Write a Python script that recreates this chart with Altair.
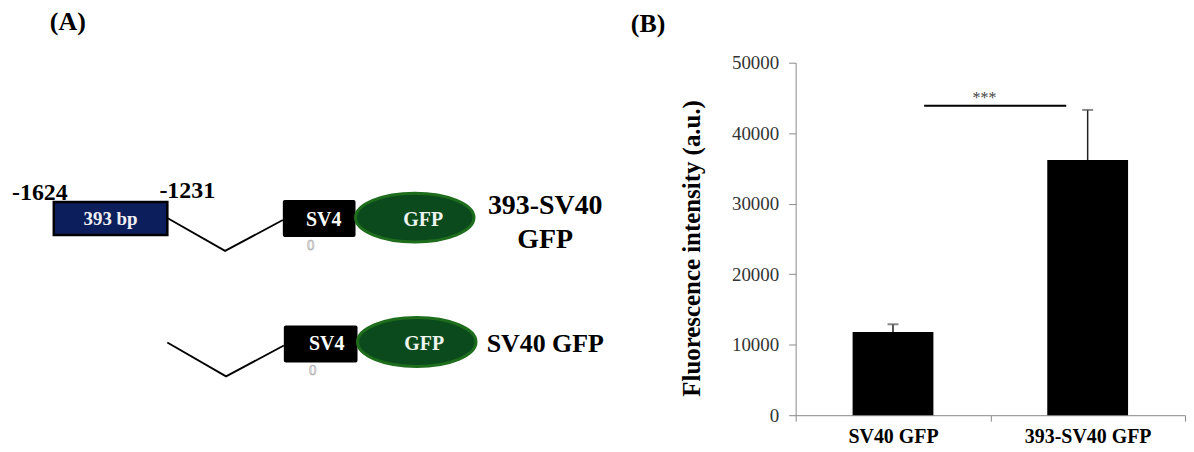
import altair as alt
import pandas as pd

FONT = "Liberation Serif"

# ---------------- Panel B data ----------------
categories = ["SV40 GFP", "393-SV40 GFP"]
means = [11800, 36200]
errors = [1100, 7100]
sig_value = 43900
sig_label = "***"
sig_span = [0.66, 1.39]      # in category-index units (0..2)
sig_text_pos = [0.97]
y_ticks = [0, 10000, 20000, 30000, 40000, 50000]

# ---------------- Panel A schematic (diagram units, y downward) ----------------
promoter_x = [46, 160]
promoter_y = [139, 172]
promoter_label = "393 bp"
coord_labels = ["-1624", "-1231"]
coord_x = [32, 180]
coord_y = [137, 135]
link_row = [0, 0, 0, 1, 1, 1]
link_order = [0, 1, 2, 0, 1, 2]
link_x = [160, 218, 276, 160, 219, 277]
link_y = [155, 188, 157, 280, 314, 283]
sv4_x0 = [276, 277]
sv4_x1 = [349, 351]
sv4_y0 = [137, 263]
sv4_y1 = [174, 300]
sv4_text = ["SV4", "SV4"]
sv4_tx = [317, 320]
sv4_ty = [157, 282]
stray_text = ["0", "0"]
stray_x = [304, 306]
stray_y = [182, 308]
gfp_x = [408.5, 410.5]
gfp_y = [154.5, 279.5]
gfp_text = ["GFP", "GFP"]
gfp_tx = [417, 418]
gfp_ty = [157, 282]
name_text = ["393-SV40", "GFP", "SV40 GFP"]
name_x = [539.5, 539.5, 539.5]
name_y = [151, 185, 290]
name_size = [28, 28, 26]

ELLIPSE = "M-1,0A1,0.412,0,1,1,1,0A1,0.412,0,1,1,-1,0Z"

A_W = 615
VIEW_TOP_SHIFT = -1

xs = alt.Scale(domain=[0, A_W], nice=False, zero=False)
ys = alt.Scale(domain=[VIEW_TOP_SHIFT, 354 + VIEW_TOP_SHIFT], nice=False, zero=False, reverse=True)


def X(f):
    return alt.X(f, type="quantitative", scale=xs, axis=None)


def Y(f):
    return alt.Y(f, type="quantitative", scale=ys, axis=None)


links = alt.Chart(pd.DataFrame({"row": link_row, "o": link_order, "x": link_x, "y": link_y})).mark_line(
    color="black", strokeWidth=1.8
).encode(x=X("x"), y=Y("y"), detail="row:N", order="o:Q")

prom = alt.Chart(pd.DataFrame({"x": [promoter_x[0]], "x2": [promoter_x[1]], "y": [promoter_y[0]], "y2": [promoter_y[1]]})).mark_rect(
    fill="#0c1f5c", stroke="black", strokeWidth=2.5
).encode(x=X("x"), x2="x2:Q", y=Y("y"), y2="y2:Q")

prom_txt = alt.Chart(pd.DataFrame({"t": [promoter_label], "x": [(promoter_x[0] + promoter_x[1]) / 2], "y": [sum(promoter_y) / 2]})).mark_text(
    font=FONT, fontSize=19, fontWeight="bold", color="#f0f0f4", baseline="middle"
).encode(x=X("x"), y=Y("y"), text="t:N")

coords = alt.Chart(pd.DataFrame({"t": coord_labels, "x": coord_x, "y": coord_y})).mark_text(
    font=FONT, fontSize=24, fontWeight="bold", color="black", baseline="alphabetic"
).encode(x=X("x"), y=Y("y"), text="t:N")

sv4 = alt.Chart(pd.DataFrame({"x": sv4_x0, "x2": sv4_x1, "y": sv4_y0, "y2": sv4_y1})).mark_rect(
    fill="black", cornerRadius=2
).encode(x=X("x"), x2="x2:Q", y=Y("y"), y2="y2:Q")

sv4_txt = alt.Chart(pd.DataFrame({"t": sv4_text, "x": sv4_tx, "y": sv4_ty})).mark_text(
    font=FONT, fontSize=20, fontWeight="bold", color="white", baseline="middle"
).encode(x=X("x"), y=Y("y"), text="t:N")

stray = alt.Chart(pd.DataFrame({"t": stray_text, "x": stray_x, "y": stray_y})).mark_text(
    font=FONT, fontSize=15, fill="white", stroke="#b0b0b0", strokeWidth=0.7, baseline="middle"
).encode(x=X("x"), y=Y("y"), text="t:N")

gfp = alt.Chart(pd.DataFrame({"x": gfp_x, "y": gfp_y})).mark_point(
    shape=ELLIPSE, size=119 * 119, filled=True, fill="#0b4a1d", stroke="#1d6d1d", strokeWidth=3, opacity=1
).encode(x=X("x"), y=Y("y"))

gfp_txt = alt.Chart(pd.DataFrame({"t": gfp_text, "x": gfp_tx, "y": gfp_ty})).mark_text(
    font=FONT, fontSize=20, fontWeight="bold", color="#eef4ee", baseline="middle"
).encode(x=X("x"), y=Y("y"), text="t:N")

names = alt.Chart(pd.DataFrame({"t": name_text, "x": name_x, "y": name_y, "fs": name_size})).mark_text(
    font=FONT, fontWeight="bold", color="black", baseline="alphabetic"
).encode(x=X("x"), y=Y("y"), text="t:N", size=alt.Size("fs:Q", scale=None, legend=None))

TITLE_KW = dict(anchor="start", fontSize=26, font=FONT, fontWeight="bold", color="black")

panel_a = alt.layer(links, prom, prom_txt, coords, sv4, sv4_txt, stray, gfp, gfp_txt, names).properties(
    width=A_W, height=354, title=alt.TitleParams("(A)", dx=42, offset=28, **TITLE_KW)
)

# ---------------- Panel B ----------------
bdf = pd.DataFrame({"cat": categories, "mean": means, "hi": [m + e for m, e in zip(means, errors)]})

xscale = alt.Scale(domain=categories, paddingInner=0, paddingOuter=0)
xb = alt.X(
    "cat:N",
    sort=categories,
    scale=xscale,
    axis=alt.Axis(
        title=None, labelAngle=0, tickBand="extent", tickSize=6, labelPadding=5,
        labelFont=FONT, labelFontSize=20, labelFontWeight="bold", labelColor="black",
        domainColor="#888888", tickColor="#888888",
    ),
)
yb = alt.Y(
    "mean:Q",
    scale=alt.Scale(domain=[0, 50000], nice=False),
    axis=alt.Axis(
        values=y_ticks, format="d", title="Fluorescence intensity (a.u.)", grid=False,
        tickSize=7, labelPadding=10, labelFont=FONT, labelFontSize=19, labelColor="#333333",
        titleFont=FONT, titleFontSize=25, titleFontWeight="bold", titleColor="black", titlePadding=27,
        titleY=186, domainColor="#888888", tickColor="#888888",
    ),
)

bars = alt.Chart(bdf).mark_bar(color="black", width={"band": 0.415}).encode(x=xb, y=yb)
stems = alt.Chart(bdf).mark_rule(color="#222222", strokeWidth=1.5).encode(
    x=alt.X("cat:N", sort=categories, scale=xscale), y="mean:Q", y2="hi:Q"
)
caps = alt.Chart(bdf).mark_tick(color="#555555", thickness=2, size=11).encode(
    x=alt.X("cat:N", sort=categories, scale=xscale), y="hi:Q"
)
cat_layer = alt.layer(bars, stems, caps)

pos_scale = alt.Scale(domain=[0, len(categories)], nice=False, zero=False)
sig_line = alt.Chart(pd.DataFrame({"p": [sig_span[0]], "p2": [sig_span[1]], "v": [sig_value]})).mark_rule(
    color="black", strokeWidth=2
).encode(x=alt.X("p:Q", scale=pos_scale, axis=None), x2="p2:Q", y="v:Q")
sig_txt = alt.Chart(pd.DataFrame({"p": sig_text_pos, "v": [sig_value], "t": [sig_label]})).mark_text(
    font=FONT, fontSize=16, color="#444444", baseline="alphabetic", dy=-3
).encode(x=alt.X("p:Q", scale=pos_scale, axis=None), y="v:Q", text="t:N")
sig_layer = alt.layer(sig_line, sig_txt)

panel_b = alt.layer(cat_layer, sig_layer).resolve_scale(x="independent").properties(
    width=391, height=354, title=alt.TitleParams("(B)", dx=-49, offset=17, **TITLE_KW)
)

chart = alt.hconcat(panel_a, panel_b, spacing=10).properties(
    padding={"left": 0, "top": 0, "right": 0, "bottom": 0}
).configure_view(stroke=None)

chart.save("out.html", embed_options={"renderer": "svg", "actions": False})
